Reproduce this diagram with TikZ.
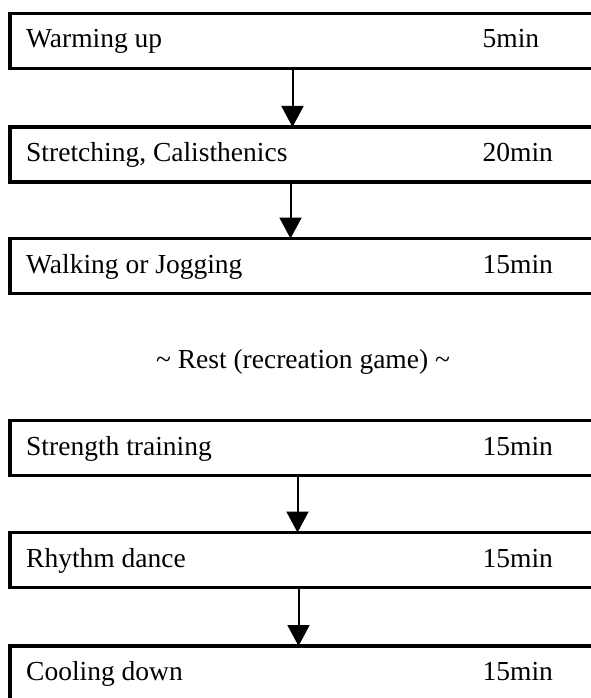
\documentclass[tikz,border=0pt]{standalone}
\usepackage{fontspec}
\setmainfont{Liberation Serif}
\usetikzlibrary{arrows.meta}
\begin{document}
\begin{tikzpicture}[x=1pt,y=-1pt,
  box/.style={draw, line width=3.2pt, rectangle, minimum width=630pt, minimum height=55pt, inner sep=0pt, outer sep=0pt, anchor=north west},
  lbl/.style={anchor=base west, inner sep=0pt, font=\fontsize{27.5}{31}\selectfont},
  arr/.style={line width=2pt, -{Triangle[width=22pt,length=21pt]}}]
\clip (0,0) rectangle (591,698);
\fill[white] (0,0) rectangle (591,698);
% boxes
\node[box] (b1) at (10,13.5) {};
\node[box] (b2) at (10,127) {};
\node[box] (b3) at (10,238.5) {};
\node[box] (b4) at (10,420.5) {};
\node[box] (b5) at (10,532.5) {};
\node[box] (b6) at (10,646) {};
% labels
\node[lbl] (l1) at (26,48) {Warming up};
\node[lbl] (r1) at (482.5,48) {5min};
\node[lbl] (l2) at (26,161.5) {Stretching, Calisthenics};
\node[lbl] (r2) at (482.5,161.5) {20min};
\node[lbl] (l3) at (26,273) {Walking or Jogging};
\node[lbl] (r3) at (482.5,273) {15min};
\node[lbl, anchor=base] (rest) at (303,368) {\textasciitilde{} Rest (recreation game) \textasciitilde};
\node[lbl] (l4) at (26,455) {Strength training};
\node[lbl] (r4) at (482.5,455) {15min};
\node[lbl] (l5) at (26,567) {Rhythm dance};
\node[lbl] (r5) at (482.5,567) {15min};
\node[lbl] (l6) at (26,680.5) {Cooling down};
\node[lbl] (r6) at (482.5,680.5) {15min};
% arrows
\draw[arr] ([xshift=-32.5pt]b1.south) -- ([xshift=-32.5pt]b2.north);
\draw[arr] ([xshift=-34.5pt]b2.south) -- ([xshift=-34.5pt]b3.north);
\draw[arr] ([xshift=-27.5pt]b4.south) -- ([xshift=-27.5pt]b5.north);
\draw[arr] ([xshift=-26.5pt]b5.south) -- ([xshift=-26.5pt]b6.north);
\end{tikzpicture}
\end{document}
